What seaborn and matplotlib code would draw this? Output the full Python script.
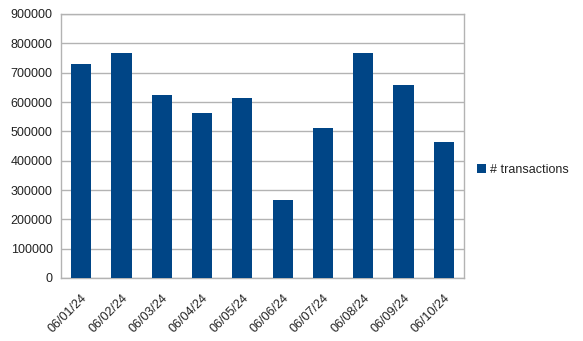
import matplotlib
matplotlib.use("Agg")
import matplotlib.pyplot as plt
import matplotlib.transforms as mtransforms
import seaborn as sns
import pandas as pd
import numpy as np
from matplotlib.ticker import FixedLocator

dates = ["06/01/24", "06/02/24", "06/03/24", "06/04/24", "06/05/24",
         "06/06/24", "06/07/24", "06/08/24", "06/09/24", "06/10/24"]
transactions = [730000, 768000, 624000, 562000, 614000,
                266000, 511000, 767000, 658000, 464000]
series_name = "# transactions"
yticks = [0, 100000, 200000, 300000, 400000, 500000, 600000, 700000, 800000, 900000]

sns.set_style("white")
plt.rcParams['font.family'] = ['Liberation Sans', 'DejaVu Sans']

df = pd.DataFrame({"date": dates, "value": transactions})

fig = plt.figure(figsize=(5.83, 3.41), dpi=100)
ax = fig.add_axes([61/583, 1-278/341, (464-61)/583, (278-14)/341])

sns.barplot(data=df, x="date", y="value", color="#004586", width=0.5,
            saturation=1, ax=ax, label=series_name, zorder=3, linewidth=0)

ax.set_xlim(-0.5, len(dates) - 0.5)
ax.set_ylim(0, 900000)
ax.set_yticks(yticks)
ax.set_yticklabels([str(v) for v in yticks], fontsize=9, color="#222222")
ax.yaxis.grid(True, color="#b3b3b3", linewidth=1, zorder=0)
ax.set_axisbelow(True)

ax.set_xticks(range(len(dates)))
ax.set_xticklabels(dates, rotation=45, ha="right", rotation_mode="anchor",
                   fontsize=9, color="#222222")
offset = mtransforms.ScaledTranslation(-3/100, 0, fig.dpi_scale_trans)
for lbl in ax.get_xticklabels():
    lbl.set_transform(lbl.get_transform() + offset)
ax.xaxis.set_minor_locator(FixedLocator(np.arange(-0.5, len(dates), 1.0)))
ax.tick_params(axis="x", which="major", length=0, pad=10)
ax.tick_params(axis="x", which="minor", length=5, color="#b3b3b3", width=1)
ax.tick_params(axis="y", which="major", length=4, color="#b3b3b3", width=1, pad=2)

for s in ax.spines.values():
    s.set_color("#b3b3b3")
    s.set_linewidth(1)

ax.set_xlabel("")
ax.set_ylabel("")

leg = ax.legend(loc="center left", bbox_to_anchor=(1.02, 0.41), frameon=False,
                fontsize=9, handlelength=0.7, handleheight=0.7, handletextpad=0.3,
                borderaxespad=0)
for t in leg.get_texts():
    t.set_color("#222222")

fig.savefig("out.png", dpi=100)
